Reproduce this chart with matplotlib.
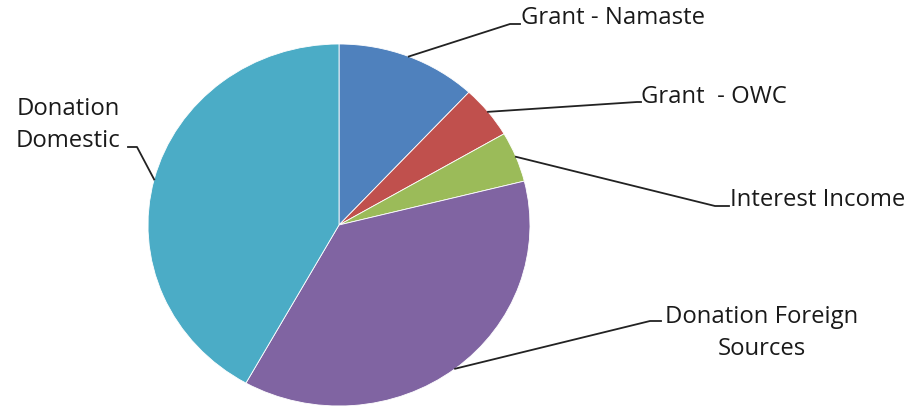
import numpy as np
import matplotlib
matplotlib.use("Agg")
import matplotlib.pyplot as plt

# slice shares in percent, clockwise from 12 o'clock
labels = ["Grant - Namaste", "Grant  - OWC", "Interest Income",
          "Donation Foreign\nSources", "Donation\nDomestic"]
shares = [11.9, 4.7, 4.5, 37.0, 41.9]
colors = ["#4F81BD", "#C0504D", "#9BBB59", "#8064A2", "#4BACC6"]

W, H = 915, 410
SY = 181 / 191          # the reference pie is slightly squashed vertically
CX, CY, R = 339, 226, 191

# label layout: elbow point, line end, text anchor (pixels), alignment
elbows = [(510, 25), (637, 103), (715, 207), (650, 322), (137, 148)]
ends = [(520, 25), (641, 103), (729, 207), (661, 322), (128, 148)]
text_pos = [(521, 18), (641, 97), (730, 200), (762, 333), (68, 125)]
text_ha = ["left", "left", "left", "center", "center"]


def px(x, y):
    return x, (H - y) / SY


fig = plt.figure(figsize=(W / 100, H / 100), dpi=100)
ax = fig.add_axes([0, 0, 1, 1])
ax.pie(shares, colors=colors, startangle=90, counterclock=False,
       center=px(CX, CY), radius=R,
       wedgeprops=dict(edgecolor="white", linewidth=0.6))
ax.set_aspect("auto")
ax.set_xlim(0, W)
ax.set_ylim(0, H / SY)
ax.axis("off")

cum = np.cumsum([0] + shares)
for i, lab in enumerate(labels):
    mid = (cum[i] + cum[i + 1]) / 2 / 100 * 2 * np.pi
    ax0 = CX + R * np.sin(mid)
    ay0 = CY - R * SY * np.cos(mid)
    pts = [(ax0, ay0), elbows[i], ends[i]]
    xs = [px(*p)[0] for p in pts]
    ys = [px(*p)[1] for p in pts]
    ax.plot(xs, ys, color="#222222", lw=1.3)
    tx, ty = px(*text_pos[i])
    ax.text(tx, ty, lab, ha=text_ha[i], va="center", fontsize=17.2,
            family="Open Sans", color="#1a1a1a", linespacing=1.45)

fig.savefig("out.png", dpi=100)
